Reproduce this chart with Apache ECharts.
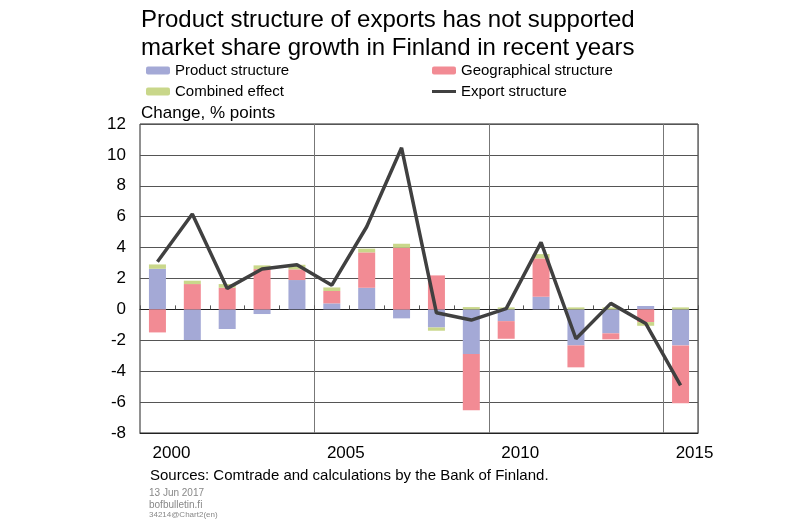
<!DOCTYPE html>
<html>
<head>
<meta charset="utf-8">
<script src="https://cdn.jsdelivr.net/npm/echarts@6/dist/echarts.min.js"></script>
<style>
  html, body { margin: 0; padding: 0; background: #fff; }
  #chart { width: 800px; height: 523px; }
</style>
</head>
<body>
<div id="chart"></div>
<script>
// Data
var years = ['2000','2001','2002','2003','2004','2005','2006','2007',
             '2008','2009','2010','2011','2012','2013','2014','2015'];
var productStructure = [2.63, -1.98, -1.27, -0.30, 1.90, 0.39, 1.40, -0.58,
                        -1.17, -2.89, -0.76, 0.82, -2.33, -1.55, 0.22, -2.33];
var geoStructure = [-1.49, 1.64, 1.40, 2.61, 0.69, 0.80, 2.29, 3.99,
                    2.20, -3.63, -1.14, 2.48, -1.42, -0.39, -0.82, -3.75];
var combinedEffect = [0.28, 0.22, 0.24, 0.24, 0.30, 0.23, 0.24, 0.26,
                      -0.21, 0.15, 0.13, 0.28, 0.13, 0.13, -0.24, 0.13];
var exportStructure = [3.09, 6.17, 1.36, 2.61, 2.89, 1.57, 5.35, 10.46,
                       -0.22, -0.69, 0.05, 4.34, -1.90, 0.39, -0.91, -4.92];

var font = 'Liberation Sans, Arial, sans-serif';
var myChart = echarts.init(document.getElementById('chart'));

// small helper for the plain text blocks
function txt(text, left, top, size, color, extra) {
  var t = {
    text: text, left: left, top: top, padding: 0,
    textStyle: { fontSize: size, fontWeight: 'normal', color: color, fontFamily: font }
  };
  if (extra) Object.assign(t.textStyle, extra);
  return t;
}

var option = {
  backgroundColor: '#fff',
  animation: false,
  textStyle: { fontFamily: font },
  title: [
    txt('Product structure of exports has not supported\nmarket share growth in Finland in recent years',
        141, 6, 24, '#000', { lineHeight: 28 }),
    txt('Change, % points', 141, 105, 17, '#000'),
    txt('Sources: Comtrade and calculations by the Bank of Finland.', 150, 468, 15, '#000'),
    txt('13 Jun 2017', 149, 488, 10, '#888'),
    txt('bofbulletin.fi', 149, 500, 10, '#888'),
    txt('34214@Chart2(en)', 149, 511, 8, '#888')
  ],
  legend: [
    {
      orient: 'vertical', left: 146, top: 63, padding: 0,
      itemWidth: 24, itemHeight: 8, itemGap: 6,
      textStyle: { fontSize: 15, color: '#000', lineHeight: 15 },
      data: ['Product structure', 'Combined effect']
    },
    {
      orient: 'vertical', left: 432, top: 63, padding: 0,
      itemWidth: 24, itemHeight: 8, itemGap: 6,
      textStyle: { fontSize: 15, color: '#000', lineHeight: 15 },
      data: ['Geographical structure',
             { name: 'Export structure', icon: 'path://M0,0 L24,0 L24,3 L0,3 Z' }]
    }
  ],
  grid: {
    left: 140, right: 102, top: 124, bottom: 90,
    show: true, borderColor: '#222', borderWidth: 1
  },
  xAxis: [
    {
      type: 'category',
      data: years,
      position: 'bottom',
      axisLine: { onZero: false, lineStyle: { color: '#222' } },
      axisTick: { show: false },
      axisLabel: {
        interval: function (i) { return i % 5 === 0; },
        fontSize: 17, color: '#000', margin: 12,
        padding: [0, 0, 0, 28]
      },
      splitLine: {
        show: true,
        interval: function (i) { return i % 5 === 0 && i > 0; },
        lineStyle: { color: '#777', width: 1 }
      }
    },
    {
      // zero line with the small category ticks
      type: 'category',
      data: years,
      position: 'top',
      axisLine: { onZero: true, lineStyle: { color: '#222' } },
      axisTick: { show: true, inside: false, length: 4, lineStyle: { color: '#555' } },
      axisLabel: { show: false },
      splitLine: { show: false }
    }
  ],
  yAxis: {
    type: 'value',
    min: -8, max: 12, interval: 2,
    axisLine: { show: false },
    axisTick: { show: false },
    axisLabel: { fontSize: 17, color: '#000', margin: 14 },
    splitLine: { lineStyle: { color: '#555', width: 1 } }
  },
  series: [
    {
      name: 'Product structure', type: 'bar', stack: 'total',
      barWidth: 17, data: productStructure,
      itemStyle: { color: '#a4a9d6' }
    },
    {
      name: 'Geographical structure', type: 'bar', stack: 'total',
      barWidth: 17, data: geoStructure,
      itemStyle: { color: '#f28b94' }
    },
    {
      name: 'Combined effect', type: 'bar', stack: 'total',
      barWidth: 17, data: combinedEffect,
      itemStyle: { color: '#c9d78a' }
    },
    {
      name: 'Export structure', type: 'line',
      data: exportStructure,
      symbol: 'none',
      z: 5,
      lineStyle: { color: '#404040', width: 3.5 },
      itemStyle: { color: '#404040' }
    }
  ]
};

myChart.setOption(option, true);
</script>
</body>
</html>
